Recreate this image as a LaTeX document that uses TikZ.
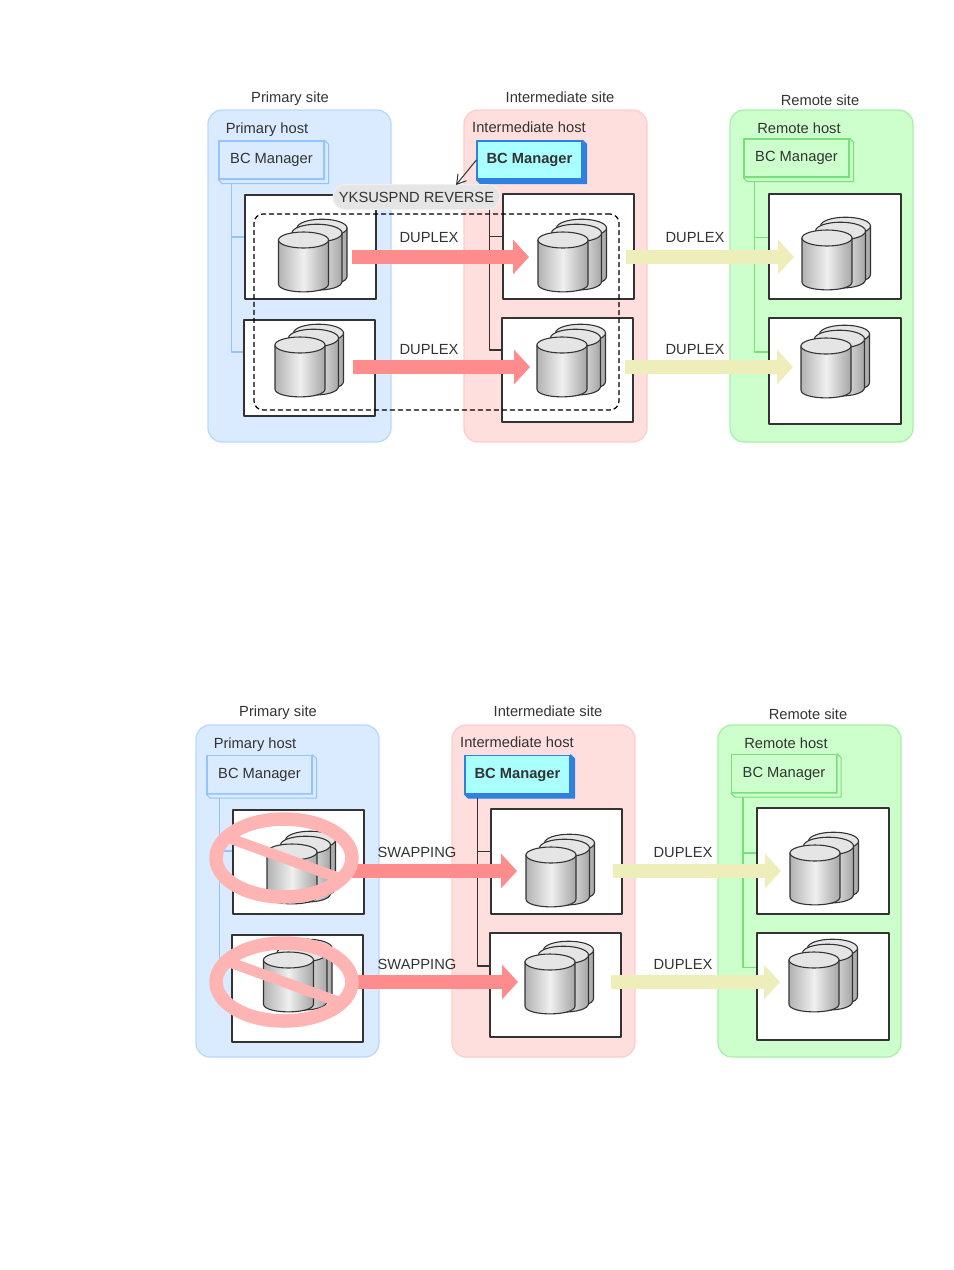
\documentclass[tikz,border=0pt]{standalone}
\usepackage{fontspec}
\setmainfont{Liberation Sans}
\usetikzlibrary{arrows.meta,shapes.geometric}
\definecolor{inkgray}{HTML}{333333}
\definecolor{blueback}{HTML}{DAEAFF}
\definecolor{blueline}{HTML}{B8D9FF}
\definecolor{bluewire}{HTML}{93C4FF}
\definecolor{pinkback}{HTML}{FFDEDE}
\definecolor{pinkline}{HTML}{FFCCCC}
\definecolor{greenback}{HTML}{CCFFCC}
\definecolor{greenline}{HTML}{A8F0A8}
\definecolor{greenwire}{HTML}{78E078}
\definecolor{cyanback}{HTML}{AAFFFF}
\definecolor{cyanline}{HTML}{2F80E0}
\definecolor{redflow}{HTML}{FF8C8C}
\definecolor{yellowflow}{HTML}{EEEEBB}
\definecolor{forbidcol}{HTML}{FFB4B4}
\tikzset{
	txt/.style={font=\fontsize{14.7bp}{17bp}\selectfont, text=inkgray, inner sep=0pt, text height=10.6bp, text depth=0pt},
	sitebox/.style={rounded corners=14bp, line width=1.3bp, minimum width=183bp, minimum height=332bp, inner sep=0pt},
	storebox/.style={draw=inkgray, fill=white, line width=1.3bp, inner sep=0pt},
	bcbase/.style={txt, text depth=3.1bp, line width=1.3bp, minimum width=105bp, minimum height=38bp, inner sep=0pt},
	bcblue/.style={bcbase, draw=bluewire, fill=blueback},
	bcgreen/.style={bcbase, draw=greenwire, fill=greenback},
	bccyan/.style={bcbase, font=\fontsize{14.7bp}{17bp}\selectfont\bfseries, draw=cyanline, fill=cyanback},
	flowred/.style={line cap=butt, line width=14bp, draw=redflow, -{Triangle[length=16bp,width=34bp]}},
	flowyellow/.style={line cap=butt, line width=14bp, draw=yellowflow, -{Triangle[length=16bp,width=34bp]}},
	wireb/.style={draw=bluewire, line width=1.5bp},
	wirep/.style={draw=inkgray, line width=1.3bp},
	wireg/.style={draw=greenwire, line width=1.5bp},
	forbid/.style={ellipse, draw=forbidcol, line width=13.5bp, minimum width=136bp, minimum height=78bp, inner sep=0pt},
	onedisk/.pic={
		\draw[draw=inkgray, line width=1.1bp, left color=black!30, right color=black!35, middle color=black!6]
		(-25,0) -- (-25,44) .. controls (-25,54.5) and (25,54.5) .. (25,44) -- (25,0) -- cycle;
		\draw[draw=inkgray, line width=1.1bp, fill=black!10] (0,0) ellipse (25 and 8);
	},
	diskstack/.pic={
		\pic[yscale=1.1] at (18.5,-12) {onedisk};
		\pic[yscale=1.1] at (13.5,-7) {onedisk};
		\pic at (0,0) {onedisk};
	}
}
\begin{document}
\begin{tikzpicture}[x=1bp, y=-1bp, line join=round]
	\useasboundingbox (0,0) rectangle (954,1270);
	% sites
	\foreach \n/\x/\y/\f/\d in {SPa/299.5/276/blueback/blueline, SIa/555.5/276/pinkback/pinkline, SRa/821.5/276/greenback/greenline,
		SPb/287.5/891/blueback/blueline, SIb/543.5/891/pinkback/pinkline, SRb/809.5/891/greenback/greenline}
	\node[sitebox, fill=\f, draw=\d] (\n) at (\x,\y) {};
	% captions
	\foreach \n/\x/\y/\t in {a/290/97/Primary site, b/560/97/Intermediate site, c/820/100/Remote site,
		d/267/128/Primary host, e/529/127.5/Intermediate host, f/799/128/Remote host,
		g/278/711/Primary site, h/548/711/Intermediate site, i/808/714/Remote site,
		j/255/743/Primary host, k/517/742/Intermediate host, l/786/743/Remote host,
		m/429/237/DUPLEX, n/429/349/DUPLEX, o/695/237/DUPLEX, p/695/349/DUPLEX,
		q/417/852/SWAPPING, r/417/964/SWAPPING, s/683/852/DUPLEX, t/683/964/DUPLEX}
	\node[txt] (cap\n) at (\x,\y) {\t};
	% managers
	\node[bcblue] (BPa) at (271.5,160) {BC Manager};
	\node[bccyan] (BIa) at (529.5,160) {BC Manager};
	\node[bcgreen] (BRa) at (796.5,158) {BC Manager};
	\node[bcblue] (BPb) at (259.5,774.5) {BC Manager};
	\node[bccyan] (BIb) at (517.5,774.5) {BC Manager};
	\node[bcgreen] (BRb) at (784,773.5) {BC Manager};
	\foreach \n/\f/\d in {BPa/blueback/bluewire, BIa/cyanline/cyanline, BRa/greenback/greenwire,
		BPb/blueback/bluewire, BIb/cyanline/cyanline, BRb/greenback/greenwire}
	\draw[fill=\f, draw=\d, line width=1.1bp] (\n.north east)--([shift={(4bp,-4bp)}]\n.north east)--([shift={(4bp,-4bp)}]\n.south east)
	--([shift={(4bp,-4bp)}]\n.south west)--(\n.south west)--(\n.south east)--cycle;
	% storage
	\foreach \n/\x/\y/\w/\h in {Pa/310.5/247/131/104, Pb/309.5/368/131/96, Ia/568.5/246.5/131/105, Ib/567.5/370/131/104, Ra/835/246.5/132/105, Rb/835/371/132/106,
		Pc/298.5/862/131/104, Pd/297.5/988.5/131/107, Ic/556.5/861.5/131/105, Id/555.5/985/131/104, Rc/823/861/132/106, Rd/823/986.5/132/107}
	\node[storebox, minimum width=\w bp, minimum height=\h bp] (\n) at (\x,\y) {};
	% links
	\foreach \bc/\u/\v/\dx/\ua/\va/\st in {BPa/Pa/Pb/13/10/16/wireb, BIa/Ia/Ib/13/10/20/wirep, BRa/Ra/Rb/11/9/19/wireg,
		BPb/Pc/Pd/13/11/23/wireb, BIb/Ic/Id/13/10/19/wirep, BRb/Rc/Rd/12/8/19/wireg}
	\draw[\st] ([xshift=\dx bp, yshift=-4bp]\bc.south west) |- ([yshift=\ua bp]\u.west)
	([xshift=\dx bp, yshift=-4bp]\bc.south west) |- ([yshift=\va bp]\v.west);
	% disks
	\foreach \x/\y in {303.5/240, 300/345, 563/240, 562/345, 827/238, 826/346,
		292/852, 288.5/960, 551/855, 550/962, 815/853, 814/960}
	\pic at (\x,\y) {diskstack};
	% flows
	\path
	(352,257) coordinate (ra) (529,257) coordinate (rb)
	(353,367) coordinate (rc) (530,367) coordinate (rd)
	(626,257) coordinate (ya) (794,257) coordinate (yb)
	(625,367) coordinate (yc) (793,367) coordinate (yd)
	(352,871) coordinate (re) (517,871) coordinate (rf)
	(355,982) coordinate (rg) (518,982) coordinate (rh)
	(613,871) coordinate (ye) (781,871) coordinate (yf)
	(611,982) coordinate (yg) (780,982) coordinate (yh)
	(456,185) coordinate (tipcmd)
	;
	\foreach \s/\e in {ra/rb, rc/rd, re/rf, rg/rh}
	\draw[flowred] (\s)--(\e);
	\foreach \s/\e in {ya/yb, yc/yd, ye/yf, yg/yh}
	\draw[flowyellow] (\s)--(\e);
	% pair group and command
	\node[draw=black, dash pattern=on 5bp off 3bp, line width=1.2bp, rounded corners=9bp, minimum width=365bp, minimum height=196bp, inner sep=0pt] (group) at (436.5,312) {};
	\node[txt, fill=black!10, draw=black!6, line width=1bp, rounded corners=12bp, minimum width=167bp, minimum height=25bp] (cmd) at (416.5,197) {YKSUSPND REVERSE};
	\draw[-{Straight Barb[length=9bp,width=11bp]}, draw=inkgray, line width=1bp] (BIa.west) -- (tipcmd);
	% stopped primary volumes
	\node[forbid] (noa) at (284,858) {};
	\node[forbid] (nob) at (284,982) {};
	\draw[draw=forbidcol, line width=10.5bp, shorten <=6bp, shorten >=6bp] (noa.160)--(noa.-20);
	\draw[draw=forbidcol, line width=10.5bp, shorten <=6bp, shorten >=6bp] (nob.160)--(nob.-20);
\end{tikzpicture}
\end{document}
